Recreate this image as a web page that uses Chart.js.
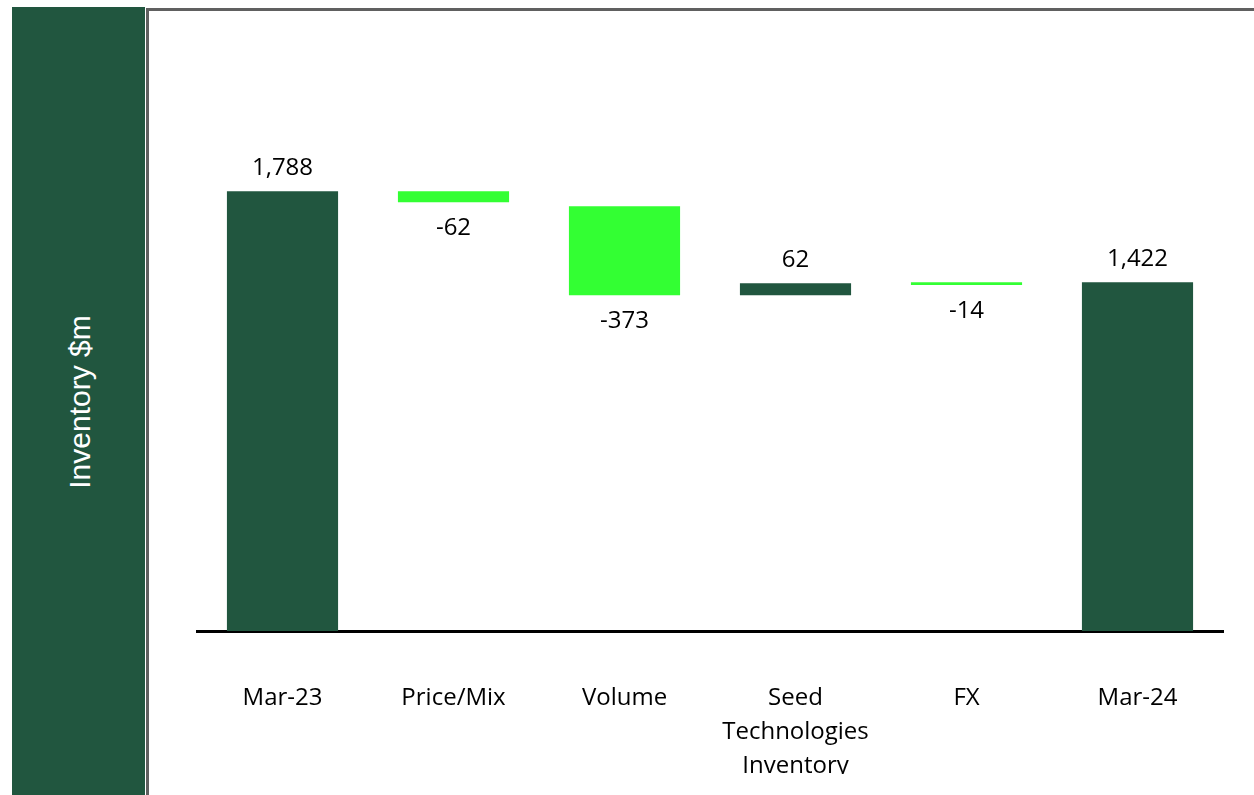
<!DOCTYPE html>
<html>
<head>
<meta charset="utf-8">
<script src="https://cdn.jsdelivr.net/npm/chart.js@4"></script>
<style>
  html, body { margin: 0; padding: 0; background: #ffffff; width: 1254px; height: 795px; overflow: hidden; }
  #panel { position: absolute; left: 12px; top: 7px; width: 133px; height: 788px; background: #21563F; }
  #ytitle { position: absolute; left: 80px; top: 402px; transform: translate(-50%, -50%) rotate(-90deg);
            color: #ffffff; font-family: "Liberation Sans", Arial, sans-serif; font-size: 30px; white-space: nowrap; }
  #box { position: absolute; left: 146px; top: 8px; width: 1120px; height: 800px;
         border-left: 3px solid #606060; border-top: 3px solid #606060; box-sizing: border-box; }
  #wrap { position: absolute; left: 150px; top: 11px; width: 1104px; height: 763px; overflow: hidden; }
</style>
</head>
<body>
<div id="panel"></div>
<div id="ytitle">Inventory $m</div>
<div id="box"></div>
<div id="wrap"><canvas id="c" width="1104" height="763"></canvas></div>
<script>
const categories = [['Mar-23'], ['Price/Mix'], ['Volume'], ['Seed', 'Technologies', 'Inventory'], ['FX'], ['Mar-24']];
const barStart = [0, 1743, 1365, 1365, 1407, 0];
const barEnd = [1788, 1788, 1727, 1414, 1418, 1418];
const valueLabels = ['1,788', '-62', '-373', '62', '-14', '1,422'];
const labelBelow = [false, true, true, false, true, false];
const barColors = ['#21563F', '#33FF33', '#33FF33', '#21563F', '#33FF33', '#21563F'];

const FONT = '"Open Sans", "Liberation Sans", Arial, sans-serif';

const valueLabelPlugin = {
  id: 'valueLabels',
  afterDatasetsDraw(chart) {
    const ctx = chart.ctx;
    const meta = chart.getDatasetMeta(0);
    ctx.save();
    ctx.font = '24px ' + FONT;
    ctx.fillStyle = '#000000';
    ctx.textAlign = 'center';
    ctx.textBaseline = 'middle';
    meta.data.forEach((bar, i) => {
      const top = Math.min(bar.y, bar.base);
      const bottom = Math.max(bar.y, bar.base);
      const y = labelBelow[i] ? bottom + 26 : top - 23;
      ctx.fillText(valueLabels[i], bar.x, y);
    });
    ctx.restore();
  }
};

new Chart(document.getElementById('c'), {
  type: 'bar',
  data: {
    labels: categories,
    datasets: [{
      data: barStart.map((s, i) => [s, barEnd[i]]),
      backgroundColor: barColors,
      borderWidth: 0,
      categoryPercentage: 0.65,
      barPercentage: 1.0
    }]
  },
  options: {
    responsive: false,
    animation: false,
    layout: { padding: { left: 47, right: 31, top: 128, bottom: 0 } },
    plugins: { legend: { display: false }, tooltip: { enabled: false } },
    scales: {
      x: {
        grid: { display: false, drawTicks: false },
        border: { display: true, color: '#000000', width: 3 },
        ticks: { color: '#000000', font: { family: FONT, size: 24, lineHeight: 1.42 }, padding: 50, maxRotation: 0, autoSkip: false },
        afterFit(scale) { scale.height = 143; }
      },
      y: {
        display: false,
        min: 0,
        max: 2000
      }
    }
  },
  plugins: [valueLabelPlugin]
});
</script>
</body>
</html>
